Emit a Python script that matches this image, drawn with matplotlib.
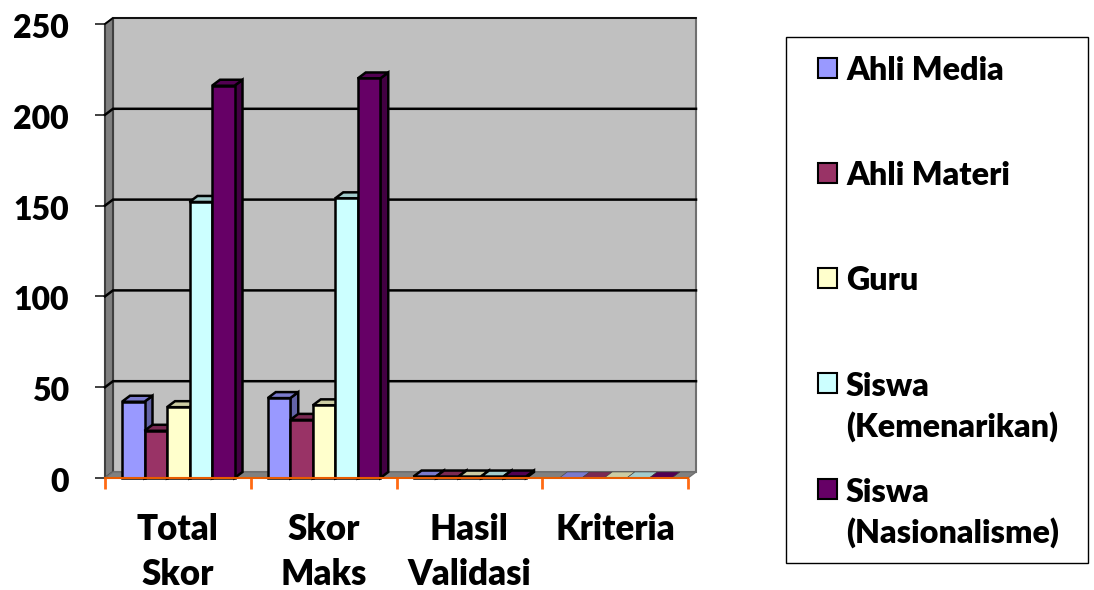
import matplotlib
matplotlib.use('Agg')
import matplotlib.pyplot as plt
from matplotlib.colors import to_rgb
from matplotlib.patches import Polygon, Rectangle
from matplotlib.ticker import FixedLocator
from matplotlib.transforms import ScaledTranslation

plt.rcParams['font.family'] = ['Lato', 'DejaVu Sans']

categories = ['Total\nSkor', 'Skor\nMaks', 'Hasil\nValidasi', 'Kriteria']
ahli_media = [42, 44, 0.8, 0]
ahli_materi = [26, 32, 0.8, 0]
guru = [39, 40, 0.8, 0]
siswa_kem = [152, 154, 0.8, 0]
siswa_nas = [216, 220, 0.8, 0]
y_ticks = [0, 50, 100, 150, 200, 250]

series = [ahli_media, ahli_materi, guru, siswa_kem, siswa_nas]
colors = ['#9999FF', '#993366', '#FFFFCC', '#CCFFFF', '#660066']
legend_labels = ['Ahli Media', 'Ahli Materi', 'Guru', 'Siswa\n(Kemenarikan)', 'Siswa\n(Nasionalisme)']
legend_y = [68, 173, 278, 383, 489]

W, H = 1094, 590
WEIGHT = 800
fig = plt.figure(figsize=(W / 100, H / 100), dpi=100)
ax = fig.add_axes([105 / W, (H - 478) / H, 583 / W, 454 / H])
ax.set_xlim(0, 4)
ax.set_ylim(0, 250)

# depth of the fake 3d box, in data units
dx = 8 / 145.75
dy = 6 / 1.816
bar_w = 22.5 / 145.75
group_start = 17 / 145.75


def shade(c, f):
    return tuple(v * f for v in to_rgb(c))


# walls
ax.add_patch(Polygon([(dx, dy), (4 + dx, dy), (4 + dx, 250 + dy), (dx, 250 + dy)],
                     fc='#C0C0C0', ec='#707070', lw=1.5, clip_on=False, zorder=1))
ax.add_patch(Polygon([(0, 0), (dx, dy), (dx, 250 + dy), (0, 250)],
                     fc='#808080', ec='#404040', lw=1.5, clip_on=False, zorder=1))
ax.add_patch(Polygon([(0, 0), (4, 0), (4 + dx, dy), (dx, dy)],
                     fc='#808080', ec='#707070', lw=1, clip_on=False, zorder=1))

# gridlines run along the side wall and then the back wall
for t in y_ticks[1:]:
    ax.plot([0, dx, 4 + dx], [t, t + dy, t + dy], color='black', lw=1.8 if t < 250 else 1.2,
            clip_on=False, zorder=2, solid_joinstyle='miter')

# bars: side, top and then front, left to right
for i in range(len(categories)):
    for j, vals in enumerate(series):
        v = vals[i]
        c = colors[j]
        x0 = i + group_start + j * bar_w
        x1 = x0 + bar_w
        lw = 1.8 if v > 0 else 0.4
        ec = 'black' if v > 0 else '#404040'
        ax.add_patch(Polygon([(x1, 0), (x1 + dx, dy), (x1 + dx, v + dy), (x1, v)],
                             fc=shade(c, 0.65), ec=ec, lw=lw, clip_on=False, zorder=3))
        ax.add_patch(Polygon([(x0, v), (x1, v), (x1 + dx, v + dy), (x0 + dx, v + dy)],
                             fc=shade(c, 0.8), ec=ec, lw=lw, clip_on=False, zorder=3))
        ax.bar(x0, v, bar_w, align='edge', color=c, edgecolor=ec, lw=lw, clip_on=False, zorder=3)

for s in ['top', 'right', 'left']:
    ax.spines[s].set_visible(False)
ax.spines['bottom'].set_color('#E85C00')
ax.spines['bottom'].set_linewidth(1.5)
ax.spines['bottom'].set_zorder(4)

ax.set_yticks(y_ticks)
ax.tick_params(axis='y', length=7, width=1.2, color='#202020', pad=19, labelsize=23)
# labels sit about 2px below their ticks in the original
nudge = ScaledTranslation(0, -2 / 100, fig.dpi_scale_trans)
for lab in ax.get_yticklabels():
    lab.set_fontweight(WEIGHT)
    lab.set_transform(lab.get_transform() + nudge)

ax.xaxis.set_major_locator(FixedLocator([0, 1, 2, 3, 4]))
ax.set_xticklabels([])
ax.xaxis.set_minor_locator(FixedLocator([0.5, 1.5, 2.5, 3.5]))
ax.set_xticklabels(categories, minor=True, fontsize=25, fontweight=WEIGHT, linespacing=1.46)
ax.tick_params(axis='x', which='major', length=8, width=2, color='#FF6A13')
ax.tick_params(axis='x', which='minor', length=0, pad=25)

# legend box, placed by hand in figure pixels
fig.add_artist(Rectangle((786 / W, (H - 563) / H), 302 / W, 526 / H, fc='white', ec='black',
                         lw=1, transform=fig.transFigure))
for lab, c, y in zip(legend_labels, colors, legend_y):
    fig.add_artist(Rectangle((818 / W, (H - y - 10) / H), 19 / W, 20 / H, fc=c, ec='black',
                             lw=1.5, transform=fig.transFigure))
    base = y + 12 + 42 * lab.count('\n')
    fig.text(846 / W, (H - base) / H, lab, fontsize=23.2, fontweight=WEIGHT, va='baseline',
             linespacing=1.42)

fig.savefig('out.png', dpi=100)
